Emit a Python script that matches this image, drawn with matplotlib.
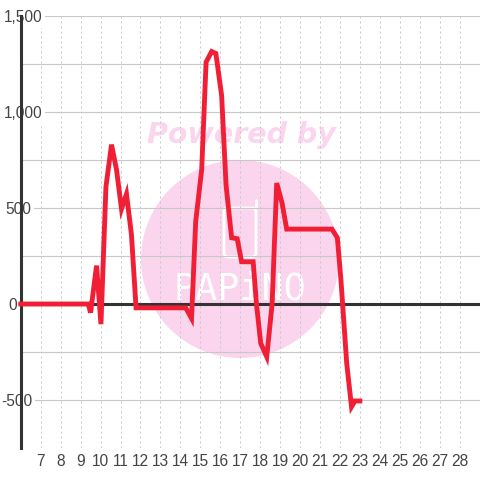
import matplotlib
matplotlib.use('Agg')
import matplotlib.pyplot as plt
from matplotlib.lines import Line2D
from matplotlib.patches import Circle, FancyBboxPatch

# Line values
hours = [6, 9.38, 9.5, 9.8, 10.02, 10.27, 10.55, 10.8, 11.05, 11.3, 11.55, 11.78, 14.27, 14.56, 14.77,
         15.07, 15.29, 15.57, 15.78, 16.07, 16.29, 16.57, 16.85, 17.07, 17.65, 17.82, 18.03, 18.33, 18.6,
         18.83, 19.1, 19.33, 21.6, 21.87, 22.05, 22.34, 22.58, 22.75, 23]
values = [0, 0, -45, 200, -105, 610, 830, 700, 495, 573, 360, -20, -20, -75, 430,
          700, 1260, 1315, 1305, 1085, 620, 345, 340, 220, 220, -5, -205, -275, 0,
          630, 525, 390, 390, 345, 125, -310, -535, -505, -505]
x_ticks = list(range(7, 29))
y_ticks = [-500, 0, 500, 1000, 1500]
y_minor = [-250, 250, 750, 1250]
y_tick_labels = ['-500', '0', '500', '1,000', '1,500']

plt.rcParams['font.family'] = 'Liberation Sans'
text_color = '#444444'
grid_color = '#c8c8c8'
pink = '#fbd5ee'

fig = plt.figure(figsize=(4.8, 4.8), dpi=100)
ax_left = 20.75
ax_width = 458.85
ax = fig.add_axes([ax_left / 480, 32 / 480, ax_width / 480, 432 / 480])
ax.set_xlim(6, 29)
ax.set_ylim(-750, 1500)
ax.patch.set_alpha(0)

# Watermark sits behind the chart, in pixel coordinates
fig.patches.append(Circle((240, 480 - 259), 99, color=pink, lw=0, transform=None, zorder=-2))
fig.text(241 / 480, 1 - 135 / 480, 'Powered by', color=pink, fontsize=20.5, fontweight='bold',
         fontstyle='italic', family='DejaVu Sans', ha='center', va='center', zorder=-1)
fig.patches.append(FancyBboxPatch((224, 480 - 257), 32, 49, boxstyle='round,pad=0,rounding_size=4',
                                  fc='none', ec='white', lw=2, transform=None, zorder=-1))
fig.lines.append(Line2D([256, 256], [480 - 208, 480 - 200], color='white', lw=2,
                        solid_capstyle='round', transform=None, zorder=-1))
fig.text(240 / 480, 1 - 289 / 480, 'PAPiNO', color='white', fontsize=26.5, family='DejaVu Sans Mono',
         ha='center', va='center', zorder=-1)

ax.set_xticks(x_ticks)
ax.set_yticks(y_ticks)
ax.set_yticks(y_minor, minor=True)
ax.set_yticklabels(y_tick_labels)
ax.grid(axis='x', color=grid_color, lw=0.72, ls=(0, (2, 3)))
ax.grid(axis='y', which='both', color=grid_color, lw=0.8)
ax.set_axisbelow(True)
ax.tick_params(which='both', length=0, labelcolor=text_color, labelsize=11.2)
ax.tick_params(axis='x', pad=4)
ax.tick_params(axis='y', pad=0)

for s in ['top', 'right', 'bottom']:
    ax.spines[s].set_visible(False)
ax.spines['left'].set_color('#333333')
ax.spines['left'].set_linewidth(2.2)
ax.axhline(0, color='#333333', lw=2.2, zorder=2)

ax.plot(hours, values, color='#f01f36', lw=3.5, solid_joinstyle='miter', solid_capstyle='projecting',
        zorder=3, clip_on=False)

# y labels overlap the axis line, each with a white box behind it
label_left_px = [1, 8, 5, 4, 4]
for lab, px in zip(ax.get_yticklabels(), label_left_px):
    lab.set_ha('left')
    lab.set_x((px - ax_left) / ax_width)
    lab.set_bbox(dict(fc='white', ec='none', pad=2))
    lab.set_clip_on(False)
    lab.set_zorder(5)

fig.savefig('out.png', dpi=100)
